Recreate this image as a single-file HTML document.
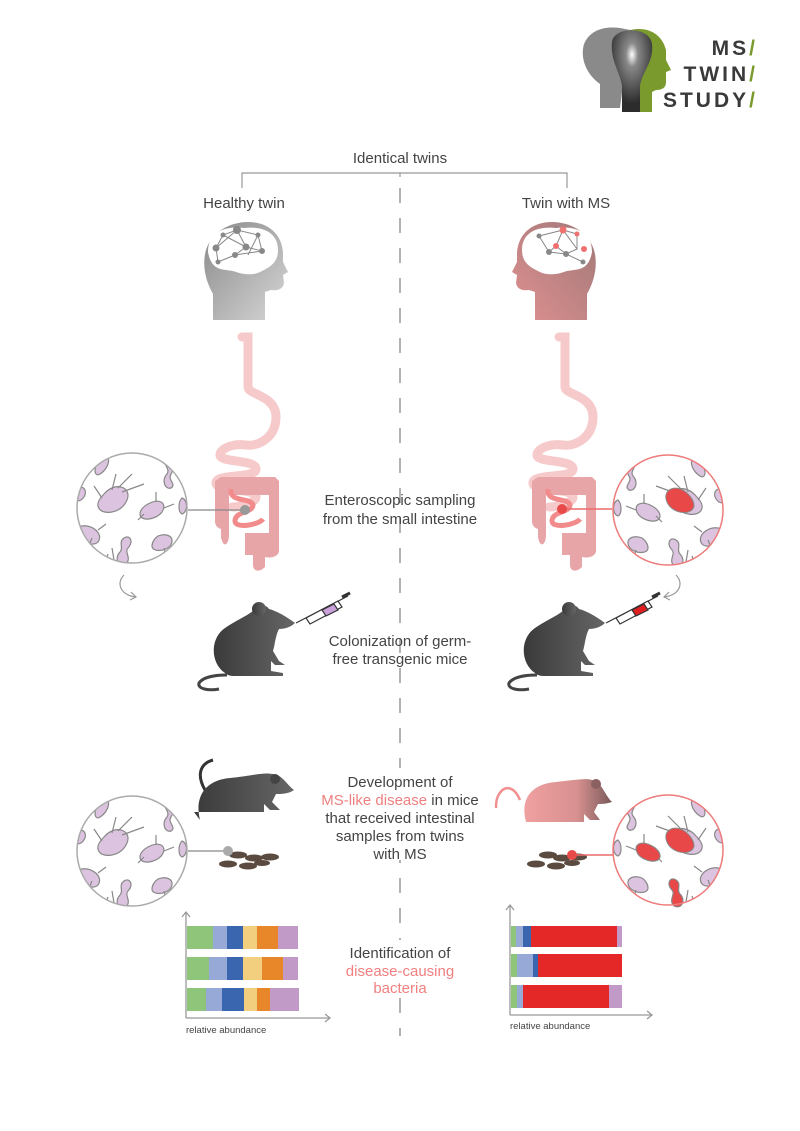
<!DOCTYPE html>
<html><head><meta charset="utf-8"><style>
html,body{margin:0;padding:0;background:#fff;}
svg{display:block;font-family:"Liberation Sans",sans-serif;}
</style></head><body>
<svg width="800" height="1131" viewBox="0 0 800 1131" xmlns="http://www.w3.org/2000/svg">
<defs>
<linearGradient id="gh" x1="0" y1="0" x2="1" y2="1"><stop offset="0" stop-color="#888"/><stop offset="1" stop-color="#d8d8d8"/></linearGradient>
<linearGradient id="rh" x1="0" y1="0" x2="1" y2="1"><stop offset="0" stop-color="#a07878"/><stop offset="1" stop-color="#e09090"/></linearGradient>
<linearGradient id="mg" x1="0" y1="0" x2="1" y2="0"><stop offset="0" stop-color="#3a3a3a"/><stop offset="1" stop-color="#666"/></linearGradient>
<linearGradient id="mr" x1="0" y1="0" x2="1" y2="0"><stop offset="0" stop-color="#f0a0a0"/><stop offset="0.6" stop-color="#d89090"/><stop offset="1" stop-color="#7a5a5a"/></linearGradient>
<radialGradient id="bulb" cx="0.5" cy="0.3" r="0.6"><stop offset="0" stop-color="#fff"/><stop offset="0.25" stop-color="#888"/><stop offset="1" stop-color="#2c2c2c"/></radialGradient>
<clipPath id="cc"><circle cx="0" cy="0" r="55"/></clipPath>
<g id="head">
<path d="M10,98 L10,72 C2,58 -1,42 3,28 C9,9 28,0 45,0 C65,0 79,12 80,31 L80,40 L85,50 L80,53 L81,61 C80,67 75,69 68,68 L62,70 L62,98 Z"/>
</g>
<g id="gut">
<path d="M-3,0 h6 v50 c0,8 28,8 28,30 c0,22 -20,30 -30,28 c-14,-2 -26,4 -26,10 c0,8 36,4 36,14 c0,10 -40,4 -40,14 c0,10 40,4 40,14 c0,6 -16,10 -24,10" fill="none" stroke="#f6caca" stroke-width="9" stroke-linecap="round"/>
<path d="M-24,140 h54 l4,4 v70 c0,4 -6,8 -14,6 v10 c-6,6 -12,4 -12,-2 v-10 h-8 v-22 h24 v-38 h-40 v40 c0,10 -6,14 -8,2 v-8 c-6,-2 -6,-6 -6,-10 v-38 z" fill="#e8a5a8"/>
<path d="M-14,152 c-2,14 20,8 22,16 c0,8 -18,6 -18,16 c0,8 24,4 28,-2" fill="none" stroke="#f28c8c" stroke-width="5"/>
</g>
<g id="bact">
<circle cx="0" cy="0" r="55" fill="#fff"/>
<g clip-path="url(#cc)" stroke="#888" stroke-width="1.2" fill="#dcc4e0">
<path d="M-30,-50 c10,-5 8,10 -2,16 c-6,4 -8,-8 2,-16z"/>
<path d="M35,-48 c6,-4 10,4 4,14 c-4,6 6,10 0,14 c-6,2 -10,-8 -4,-14 c4,-6 -6,-10 0,-14z"/>
<path d="M-55,-20 c8,-4 12,6 4,12 c-8,4 -10,-6 -4,-12z"/>
<path d="M-28,-14 c12,-14 30,-6 22,8 c-6,12 -26,14 -28,4 c-1,-4 2,-8 6,-12z"/>
<path d="M16,-4 c10,-6 20,-2 14,8 c-6,8 -22,10 -22,2 c0,-4 4,-8 8,-10z"/>
<path d="M-50,18 c10,-2 22,8 16,16 c-6,6 -22,-2 -22,-10 c0,-4 3,-6 6,-6z"/>
<path d="M-8,30 c6,-4 10,4 4,10 c-4,4 4,10 -2,16 c-8,4 -12,-6 -6,-12 c4,-4 -2,-10 4,-14z"/>
<path d="M26,28 c10,-4 18,2 12,10 c-6,6 -18,6 -18,0 c0,-4 3,-8 6,-10z"/>
<path d="M50,-10 c6,2 6,14 0,16 c-4,-2 -4,-12 0,-16z"/>
<path d="M-30,-10 l-8,-12 M-20,-18 l4,-16 M-14,-20 l14,-14 M-10,-16 l22,-8 M24,-6 l0,-10 M32,0 l10,-4 M12,6 l-6,6 M-40,30 l-4,10 M-34,22 l8,-6 M-20,40 l2,12 M-24,46 l-4,12 M32,40 l2,8" fill="none"/>
</g>
</g>
<g id="mouse">
<path d="M32,72 C20,72 8,74 4,80 C2,86 14,88 24,86" fill="none" stroke="#444" stroke-width="3"/>
<path d="M30,70 C15,60 15,35 30,25 C40,18 50,14 58,8 C62,2 70,0 74,6 C82,8 92,14 100,20 C96,24 90,26 84,26 C80,34 80,42 78,48 L84,58 L90,62 L80,62 L76,58 L76,68 L88,70 L88,73 L40,73 C35,73 32,72 30,70Z"/>
<circle cx="64" cy="6" r="7"/>
</g>
</defs>

<!-- logo -->
<path d="M600,108 L600,84 C586,74 580,58 584,44 C590,30 604,26 620,28 L630,30 L620,108Z" fill="#8a8a8a"/>
<path d="M630,30 C648,26 662,34 666,50 L666,60 L671,70 L666,72 L666,82 C666,88 662,90 656,90 L652,92 L652,112 L630,112Z" fill="#7a9a2e"/>
<path d="M612,42 C614,26 650,26 652,44 C654,62 642,72 640,86 L640,112 L622,112 L622,86 C620,72 610,60 612,42Z" fill="url(#bulb)"/>
<text x="758" y="55" font-size="21" font-weight="bold" fill="#3a3a3a" text-anchor="end" letter-spacing="3">MS<tspan fill="#7a9a2e">/</tspan></text>
<text x="758" y="81" font-size="21" font-weight="bold" fill="#3a3a3a" text-anchor="end" letter-spacing="3">TWIN<tspan fill="#7a9a2e">/</tspan></text>
<text x="758" y="107" font-size="21" font-weight="bold" fill="#3a3a3a" text-anchor="end" letter-spacing="3">STUDY<tspan fill="#7a9a2e">/</tspan></text>

<!-- top bracket -->
<text x="400" y="163" font-size="15" fill="#444" text-anchor="middle">Identical twins</text>
<path d="M242,188 V173 H567 V188 M400,173 V177" fill="none" stroke="#999" stroke-width="1.2"/>
<line x1="400" y1="188" x2="400" y2="1036" stroke="#999" stroke-width="1.5" stroke-dasharray="15 15"/>
<text x="244" y="208" font-size="15" fill="#444" text-anchor="middle">Healthy twin</text>
<text x="566" y="208" font-size="15" fill="#444" text-anchor="middle">Twin with MS</text>

<!-- heads -->
<g transform="translate(203,222)" fill="url(#gh)"><use href="#head"/></g>
<g transform="translate(597,222) scale(-1,1)" fill="url(#rh)"><use href="#head"/></g>
<path d="M208,252 c0,-22 20,-26 36,-24 c18,-2 34,4 34,22 c0,14 -10,18 -18,22 c-8,4 -18,2 -24,0 c-10,-4 -24,2 -28,-20z" fill="#fff"/>
<path d="M592,252 c0,-22 -20,-26 -36,-24 c-18,-2 -34,4 -34,22 c0,14 10,18 18,22 c8,4 18,2 24,0 c10,-4 24,2 28,-20z" fill="#fff"/>
<g stroke="#888" stroke-width="1" fill="#888">
<path d="M216,248 L223,235 L237,230 L246,247 L235,255 L218,262 L216,248 L237,230 L258,235 L262,251 L246,247 L223,235 M235,255 L262,251 M248,255 L258,235" fill="none"/>
<circle cx="216" cy="248" r="3"/><circle cx="237" cy="230" r="3.5"/><circle cx="246" cy="247" r="3"/><circle cx="235" cy="255" r="2.5"/><circle cx="262" cy="251" r="2.5"/><circle cx="223" cy="235" r="2"/><circle cx="258" cy="235" r="2"/><circle cx="218" cy="262" r="2"/>
<path d="M539,236 L563,230 L577,249 L566,254 L549,252 L539,236 M563,230 L556,246 L549,252 M563,230 L577,234 L577,249 M556,246 L566,254 L583,262" fill="none"/>
<circle cx="539" cy="236" r="2" /><circle cx="549" cy="252" r="2.5"/><circle cx="566" cy="254" r="2.5"/><circle cx="583" cy="262" r="2"/>
<circle cx="563" cy="230" r="3.5" fill="#f07070" stroke="none"/><circle cx="577" cy="234" r="2.5" fill="#f07070" stroke="none"/><circle cx="556" cy="246" r="3" fill="#f07070" stroke="none"/><circle cx="584" cy="249" r="3" fill="#f07070" stroke="none"/>
</g>

<!-- guts -->
<g transform="translate(245,337)"><use href="#gut"/></g>
<g transform="translate(562,337)"><use href="#gut"/></g>
<line x1="188" y1="510" x2="245" y2="510" stroke="#888" stroke-width="1.2"/>
<circle cx="245" cy="510" r="5" fill="#999"/>
<line x1="562" y1="509" x2="612" y2="509" stroke="#ec6a6a" stroke-width="1.5"/>
<circle cx="562" cy="509" r="5" fill="#e84a4a"/>

<!-- circles top -->
<g transform="translate(132,508)"><use href="#bact"/><circle r="55" fill="none" stroke="#aaa" stroke-width="1.5"/></g>
<g transform="translate(668,510) scale(-1,1)"><use href="#bact"/><circle r="55" fill="none" stroke="#ee7a7a" stroke-width="1.5"/><path d="M-20,-16 c12,-12 28,-4 20,10 c-6,10 -24,12 -26,2 c0,-4 2,-8 6,-12z" fill="#e84848" stroke="#888"/></g>

<text x="400" y="505" font-size="15" fill="#444" text-anchor="middle">Enteroscopic sampling</text>
<text x="400" y="524" font-size="15" fill="#444" text-anchor="middle">from the small intestine</text>

<!-- arrows -->
<path d="M124,575 c-8,8 -4,20 12,22 M131,592 l5,5 l-6,3" fill="none" stroke="#999" stroke-width="1.2"/>
<path d="M676,575 c8,8 4,20 -12,22 M669,592 l-5,5 l6,3" fill="none" stroke="#999" stroke-width="1.2"/>

<!-- mice top -->
<g transform="translate(195,603)" fill="url(#mg)"><use href="#mouse"/></g>
<g transform="translate(505,603)" fill="url(#mg)"><use href="#mouse"/></g>
<g stroke="#333" stroke-width="1.2">
<line x1="296" y1="623" x2="348" y2="596"/>
<path d="M306,618 l32,-17 l4,6 l-32,17z" fill="#fff"/>
<path d="M322,610 l12,-6 l4,6 l-12,6z" fill="#c9a0d8"/>
<line x1="342" y1="597" x2="350" y2="593" stroke-width="3"/>
<line x1="606" y1="623" x2="658" y2="596"/>
<path d="M616,618 l32,-17 l4,6 l-32,17z" fill="#fff"/>
<path d="M632,610 l12,-6 l4,6 l-12,6z" fill="#e02020"/>
<line x1="652" y1="597" x2="660" y2="593" stroke-width="3"/>
</g>
<text x="400" y="646" font-size="15" fill="#444" text-anchor="middle">Colonization of germ-</text>
<text x="400" y="664" font-size="15" fill="#444" text-anchor="middle">free transgenic mice</text>

<!-- bottom mice -->
<path d="M205,790 c-8,-14 -6,-26 8,-30" fill="none" stroke="#333" stroke-width="3"/>
<path d="M200,820 c-6,-24 6,-40 30,-42 c20,-2 34,-6 42,-4 c10,0 14,10 22,16 c-6,4 -12,4 -18,4 l-4,8 l8,8 h-10 l-6,-6 v8 h-70z" fill="url(#mg)"/>
<circle cx="275" cy="779" r="5" fill="#444"/>
<path d="M520,800 c-6,-14 -16,-16 -22,-4 c-2,4 -2,8 -2,12" fill="none" stroke="#f09090" stroke-width="2.5"/>
<path d="M526,822 c-6,-22 4,-38 30,-40 c20,-2 30,-4 36,-2 c10,2 12,14 20,22 c-6,2 -10,2 -14,2 l-4,8 l6,8 h-10 l-6,-6 v8 h-58z" fill="url(#mr)"/>
<circle cx="596" cy="784" r="5" fill="#8a6060"/>

<!-- pellets -->
<g fill="#5a4a40">
<ellipse cx="238" cy="855" rx="9" ry="3.5"/><ellipse cx="254" cy="858" rx="9" ry="3.5"/><ellipse cx="270" cy="857" rx="9" ry="3.5"/><ellipse cx="228" cy="864" rx="9" ry="3.5"/><ellipse cx="248" cy="866" rx="9" ry="3.5"/><ellipse cx="262" cy="863" rx="8" ry="3"/>
<ellipse cx="548" cy="855" rx="9" ry="3.5"/><ellipse cx="562" cy="858" rx="9" ry="3.5"/><ellipse cx="578" cy="857" rx="9" ry="3.5"/><ellipse cx="536" cy="864" rx="9" ry="3.5"/><ellipse cx="556" cy="866" rx="9" ry="3.5"/><ellipse cx="572" cy="863" rx="8" ry="3"/>
</g>
<line x1="188" y1="851" x2="228" y2="851" stroke="#888" stroke-width="1.2"/>
<circle cx="228" cy="851" r="5" fill="#aaa"/>
<line x1="572" y1="855" x2="614" y2="855" stroke="#ec6a6a" stroke-width="1.5"/>
<circle cx="572" cy="855" r="5" fill="#e84a4a"/>

<g transform="translate(132,851)"><use href="#bact"/><circle r="55" fill="none" stroke="#aaa" stroke-width="1.5"/></g>
<g transform="translate(668,850) scale(-1,1)"><use href="#bact"/><g fill="#e84848" stroke="#888"><path d="M-20,-16 c12,-12 28,-4 20,10 c-6,10 -24,12 -26,2 c0,-4 2,-8 6,-12z"/><path d="M16,-4 c10,-6 20,-2 14,8 c-6,8 -22,10 -22,2 c0,-4 4,-8 8,-10z"/><path d="M-8,30 c6,-4 10,4 4,10 c-4,4 4,10 -2,16 c-8,4 -12,-6 -6,-12 c4,-4 -2,-10 4,-14z"/></g><circle r="55" fill="none" stroke="#ee7a7a" stroke-width="1.5"/></g>

<g font-size="15" fill="#444" text-anchor="middle">
<rect x="325" y="768" width="150" height="92" fill="#fff"/>
<text x="400" y="787">Development of</text>
<text x="400" y="805"><tspan fill="#f08080">MS-like disease</tspan> in mice</text>
<text x="400" y="823">that received intestinal</text>
<text x="400" y="841">samples from twins</text>
<text x="400" y="859">with MS</text>
<rect x="340" y="940" width="120" height="56" fill="#fff"/>
<text x="400" y="958">Identification of</text>
<text x="400" y="976" fill="#f08080">disease-causing</text>
<text x="400" y="993" fill="#f08080">bacteria</text>
</g>

<!-- charts -->
<g stroke="#999" stroke-width="1.3" fill="none">
<path d="M186,1018 V912 M182,917 l4,-5 l4,5 M186,1018 H330 M325,1014 l5,4 l-5,4"/>
<path d="M510,1015 V905 M506,910 l4,-5 l4,5 M510,1015 H652 M647,1011 l5,4 l-5,4"/>
</g>
<g>
<rect x="187" y="926" width="26" height="23" fill="#8fc57a"/><rect x="213" y="926" width="14" height="23" fill="#97a9d6"/><rect x="227" y="926" width="16" height="23" fill="#3a66b0"/><rect x="243" y="926" width="14" height="23" fill="#f1cf7e"/><rect x="257" y="926" width="21" height="23" fill="#e8862a"/><rect x="278" y="926" width="20" height="23" fill="#c29ac8"/>
<rect x="187" y="957" width="22" height="23" fill="#8fc57a"/><rect x="209" y="957" width="18" height="23" fill="#97a9d6"/><rect x="227" y="957" width="16" height="23" fill="#3a66b0"/><rect x="243" y="957" width="19" height="23" fill="#f1cf7e"/><rect x="262" y="957" width="21" height="23" fill="#e8862a"/><rect x="283" y="957" width="15" height="23" fill="#c29ac8"/>
<rect x="187" y="988" width="19" height="23" fill="#8fc57a"/><rect x="206" y="988" width="16" height="23" fill="#97a9d6"/><rect x="222" y="988" width="22" height="23" fill="#3a66b0"/><rect x="244" y="988" width="13" height="23" fill="#f1cf7e"/><rect x="257" y="988" width="13" height="23" fill="#e8862a"/><rect x="270" y="988" width="29" height="23" fill="#c29ac8"/>
<rect x="511" y="926" width="5" height="21" fill="#8fc57a"/><rect x="516" y="926" width="7" height="21" fill="#97a9d6"/><rect x="523" y="926" width="8" height="21" fill="#3a66b0"/><rect x="531" y="926" width="86" height="21" fill="#e42828"/><rect x="617" y="926" width="5" height="21" fill="#c29ac8"/>
<rect x="511" y="954" width="6" height="23" fill="#8fc57a"/><rect x="517" y="954" width="16" height="23" fill="#97a9d6"/><rect x="533" y="954" width="5" height="23" fill="#3a66b0"/><rect x="538" y="954" width="84" height="23" fill="#e42828"/>
<rect x="511" y="985" width="6" height="23" fill="#8fc57a"/><rect x="517" y="985" width="6" height="23" fill="#97a9d6"/><rect x="523" y="985" width="86" height="23" fill="#e42828"/><rect x="609" y="985" width="13" height="23" fill="#c29ac8"/>
</g>
<text x="186" y="1033" font-size="9.5" fill="#444">relative abundance</text>
<text x="510" y="1029" font-size="9.5" fill="#444">relative abundance</text>
</svg>
</body></html>
